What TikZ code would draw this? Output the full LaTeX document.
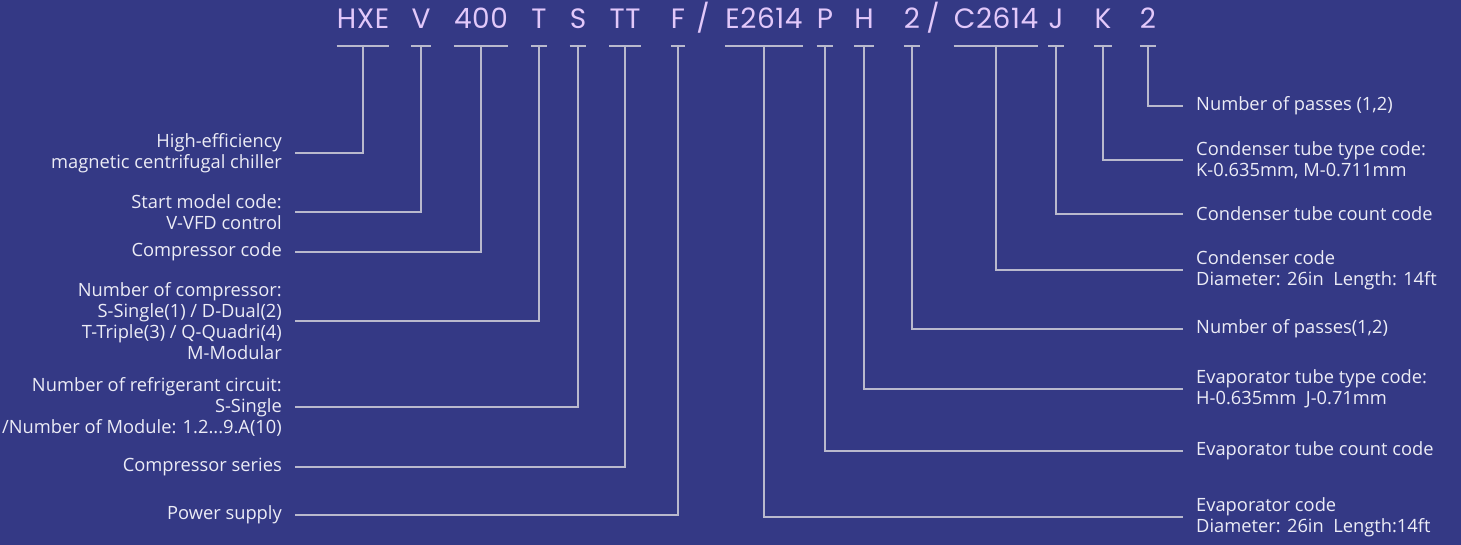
\documentclass[tikz,border=0pt]{standalone}
\usepackage{fontspec}
\setmainfont{Open Sans}
\newfontfamily\codefont[LetterSpace=2]{Poppins}
\usepackage{tikz}
\usetikzlibrary{positioning,calc}
\definecolor{chillbg}{RGB}{52,57,133}
\definecolor{codelilac}{RGB}{226,200,250}
\definecolor{labelwhite}{RGB}{236,236,246}
\definecolor{leadgray}{RGB}{185,185,205}

\tikzset{
    code/.style={inner sep=0pt, anchor=base, text=codelilac, font=\codefont\fontsize{28}{32}\selectfont},
    lefttag/.style={inner xsep=13pt, inner ysep=0pt, anchor=east, align=right, text=labelwhite, font=\fontsize{18.3}{21}\selectfont},
    righttag/.style={inner xsep=13pt, inner ysep=0pt, anchor=west, align=left, text=labelwhite, font=\fontsize{18.3}{21}\selectfont},
    lead/.style={leadgray, line width=1.4pt}
}

\begin{document}
\begin{tikzpicture}[x=1pt, y=-1pt]
    \fill[chillbg] (0,0) rectangle (1461,545);
    \useasboundingbox (0,0) rectangle (1461,545);

    % --- model code ---
    \foreach \nm/\x/\txt in {hxe/363/HXE, v/421/V, c400/481/400, t/539/T, s/578/S, tt/625/TT,
        f/678/F, sla/703/{/}, e2614/764/E2614, p/825/P, h/864/H, pa/912/2, slb/933/{/},
        c2614/996/C2614, j/1056/J, k/1103/K, pc/1148/2}{
        \node[code] (\nm) at (\x,29) {\txt};
    }

    % --- left labels ---
    \node[lefttag] (lhxe) at (295,153) {High-efficiency\\magnetic centrifugal chiller};
    \node[lefttag] (lv) at (295,212) {Start model code:\\V-VFD control};
    \node[lefttag] (l400) at (295,252) {Compressor code};
    \node[lefttag] (lt) at (295,321) {Number of compressor:\\S-Single(1) / D-Dual(2)\\T-Triple(3) / Q-Quadri(4)\\M-Modular};
    \node[lefttag] (ls) at (295,407) {Number of refrigerant circuit:\\S-Single\\/Number of Module: 1.2...9.A(10)};
    \node[lefttag] (ltt) at (295,467) {Compressor series};
    \node[lefttag] (lf) at (295,515) {Power supply};

    % --- right labels ---
    \node[righttag] (lpc) at (1183,106) {Number of passes (1,2)};
    \node[righttag] (lk) at (1183,160) {Condenser tube type code:\\K-0.635mm, M-0.711mm};
    \node[righttag] (lj) at (1183,214) {Condenser tube count code};
    \node[righttag] (lc) at (1183,270) {Condenser code\\Diameter: 26in~~Length: 14ft};
    \node[righttag] (lpa) at (1183,329) {Number of passes(1,2)};
    \node[righttag] (lh) at (1183,389) {Evaporator tube type code:\\H-0.635mm~~J-0.71mm};
    \node[righttag] (lp) at (1183,451) {Evaporator tube count code};
    \node[righttag] (le) at (1183,517) {Evaporator code\\Diameter: 26in~~Length:14ft};

    % bars under each code group
    \foreach \nm in {hxe,v,c400,t,s,tt,f,e2614,p,h,pa,c2614,j,k,pc}{
        \draw[lead] ([yshift=-17pt]\nm.base west) -- ([yshift=-17pt]\nm.base east);
    }

    % leaders to the labels
    \foreach \nm/\lb in {hxe/lhxe, v/lv, c400/l400, t/lt, s/ls, tt/ltt, f/lf}{
        \draw[lead] ([yshift=-17pt]\nm.base) |- (\lb.east);
    }
    \foreach \nm/\lb in {pc/lpc, k/lk, j/lj, c2614/lc, pa/lpa, h/lh, p/lp, e2614/le}{
        \draw[lead] ([yshift=-17pt]\nm.base) |- (\lb.west);
    }
\end{tikzpicture}
\end{document}
